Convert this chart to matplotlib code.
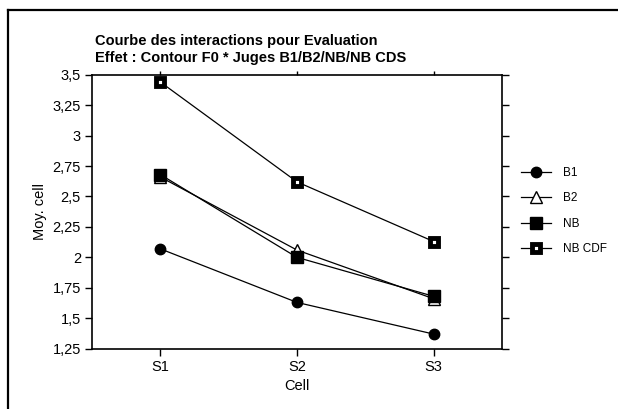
import numpy as np
import matplotlib.pyplot as plt
from matplotlib.lines import Line2D

plt.rcParams['font.family'] = ['Liberation Sans', 'DejaVu Sans']

# data
cells = ["S1", "S2", "S3"]
b1 = [2.07, 1.63, 1.37]
b2 = [2.66, 2.06, 1.66]
nb = [2.68, 2.00, 1.68]
nb_cdf = [3.44, 2.62, 2.13]

y_ticks = [1.25, 1.5, 1.75, 2, 2.25, 2.5, 2.75, 3, 3.25, 3.5]
y_tick_labels = ["1,25", "1,5", "1,75", "2", "2,25", "2,5", "2,75", "3", "3,25", "3,5"]

fig = plt.figure(figsize=(6.18, 4.09), dpi=100)
W, H = 618, 409
ax = fig.add_axes([92 / W, 1 - 348.7 / H, (502 - 92) / W, (348.7 - 74.7) / H])

x = np.arange(1, len(cells) + 1)
lw = 0.9
ax.plot(x, b1, color="black", lw=lw, marker="o", ms=7.5, mfc="black", mec="black", label="B1")
ax.plot(x, b2, color="black", lw=lw, marker="^", ms=8, mfc="white", mec="black", mew=1, label="B2")
ax.plot(x, nb, color="black", lw=lw, marker="s", ms=8.5, mfc="black", mec="black", label="NB")
ax.plot(x, nb_cdf, color="black", lw=lw, marker="s", ms=6.3, mfc="white", mec="black", mew=3.5,
        label="NB CDF")

ax.set_xlim(0.5, 3.5)
ax.set_ylim(1.25, 3.5)
ax.set_xticks(x)
ax.set_xticklabels(cells)
ax.set_yticks(y_ticks)
ax.set_yticklabels(y_tick_labels)

for s in ax.spines.values():
    s.set_linewidth(1.2)
ax.tick_params(axis="both", labelsize=10.5, length=5, width=1, direction="out", pad=3)
ax.tick_params(axis="y", right=True, labelright=False)
ax.tick_params(axis="x", top=True)
for t in ax.xaxis.get_major_ticks():
    t.tick2line.set_markersize(3)

ax.set_xlabel("Cell", fontsize=10.5, labelpad=4)
ax.set_ylabel("Moy. cell", fontsize=10.5, labelpad=4)

fig.text(95 / W, 1 - 41 / H, "Courbe des interactions pour Evaluation",
         fontsize=10.5, fontweight="bold", va="center", ha="left")
fig.text(95 / W, 1 - 58 / H, "Effet : Contour F0 * Juges B1/B2/NB/NB CDS",
         fontsize=10.5, fontweight="bold", va="center", ha="left")

ax.legend(loc="upper left", bbox_to_anchor=(521 / W, 1 - 167 / H), bbox_transform=fig.transFigure,
          frameon=False, fontsize=8.5, handlelength=2.55, handletextpad=1.0, labelspacing=1.13,
          borderpad=0, borderaxespad=0)

# outer frame (cropped: only top and left edges visible)
fig.add_artist(Line2D([8 / W, 1], [1 - 10 / H, 1 - 10 / H], color="black", lw=1.6,
                      transform=fig.transFigure))
fig.add_artist(Line2D([8 / W, 8 / W], [0, 1 - 10 / H], color="black", lw=1.6,
                      transform=fig.transFigure))

fig.savefig("out.png", dpi=100)
